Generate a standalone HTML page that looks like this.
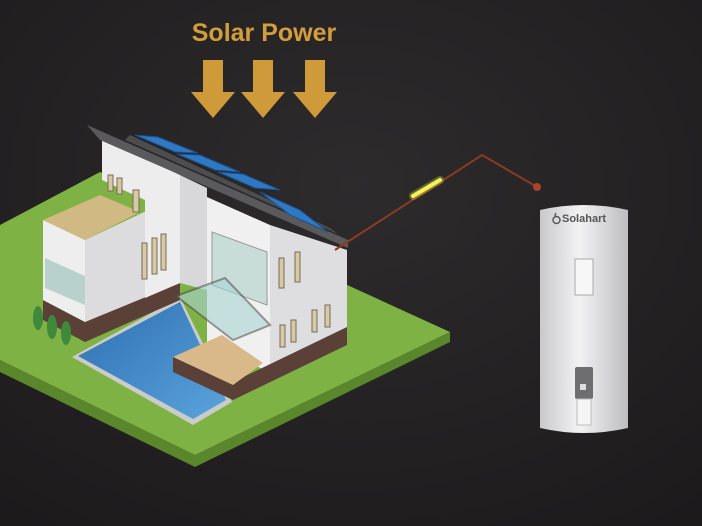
<!DOCTYPE html>
<html><head><meta charset="utf-8"><style>
html,body{margin:0;padding:0;width:702px;height:526px;overflow:hidden;background:#242223}
svg{display:block}
</style></head><body>
<svg width="702" height="526" viewBox="0 0 702 526" xmlns="http://www.w3.org/2000/svg">
<defs>
<radialGradient id="bg" cx="0.5" cy="0.35" r="0.8">
<stop offset="0" stop-color="#2d2b2c"/><stop offset="1" stop-color="#1c1a1b"/></radialGradient>
<linearGradient id="tank" x1="0" x2="1" y1="0" y2="0">
<stop offset="0" stop-color="#c9c9cb"/><stop offset="0.45" stop-color="#f2f2f3"/><stop offset="1" stop-color="#bdbdc0"/></linearGradient>
<linearGradient id="pool" x1="0" x2="1" y1="0" y2="1">
<stop offset="0" stop-color="#2f6fb2"/><stop offset="1" stop-color="#5aa3dc"/></linearGradient>
</defs>
<rect width="702" height="526" fill="url(#bg)"/>
<text x="264" y="41" text-anchor="middle" font-family="Liberation Sans, sans-serif" font-weight="bold" font-size="25" fill="#d49d3c">Solar Power</text>
<g fill="#cf9a3a">
<path d="M203 60h20v32h12l-22 26l-22-26h12z"/>
<path d="M253 60h20v32h12l-22 26l-22-26h12z"/>
<path d="M305 60h20v32h12l-22 26l-22-26h12z"/>
</g>
<!-- lawn -->
<polygon points="0,372 195,467 450,342 450,332 195,455 0,360" fill="#5a872c"/>
<polygon points="100,172 450,332 195,455 0,360 0,225" fill="#7fb244"/>
<!-- pool -->
<polygon points="72,357 180,297 232,402 193,425" fill="#c9ccc8"/>
<polygon points="78,356 180,302 226,400 193,419" fill="url(#pool)"/>
<!-- left lower block -->
<polygon points="43,300 85,322 180,280 180,300 85,342 43,320" fill="#5b4038"/>
<polygon points="43,220 85,240 85,322 43,300" fill="#eeeeef"/>
<polygon points="85,240 180,195 180,283 85,322" fill="#dcdcde"/>
<polygon points="45,258 85,276 85,305 45,288" fill="#b9d1cc"/>
<polygon points="43,220 100,195 140,212 85,240" fill="#d9b98a" opacity="0.9"/>
<!-- tall left / central wall -->
<polygon points="102,137 180,175 180,283 145,298 145,200 102,180" fill="#ededee"/>
<polygon points="180,175 207,188 207,290 180,283" fill="#d8d8da"/>
<g fill="#d6c9a6" stroke="#7a6a55" stroke-width="1">
<rect x="108" y="175" width="5" height="16"/><rect x="117" y="178" width="5" height="16"/><rect x="133" y="190" width="6" height="22"/>
<rect x="142" y="243" width="5" height="36"/><rect x="152" y="238" width="5" height="36"/><rect x="161" y="234" width="5" height="36"/>
</g>
<!-- right block -->
<polygon points="207,197 270,225 270,372 207,345" fill="#f0f0f1"/>
<polygon points="270,225 347,250 347,327 270,372" fill="#dedee0"/>
<polygon points="233,382 347,327 347,345 233,400" fill="#5b4038"/>
<polygon points="212,232 267,252 267,305 212,285" fill="#c8dcd8" stroke="#999" stroke-width="1"/>
<g fill="#d6c9a6" stroke="#7a6a55" stroke-width="1">
<rect x="279" y="258" width="5" height="30"/><rect x="295" y="252" width="5" height="30"/>
<rect x="280" y="325" width="5" height="22"/><rect x="291" y="320" width="5" height="22"/><rect x="312" y="310" width="5" height="22"/><rect x="325" y="305" width="5" height="22"/>
</g>
<!-- deck -->
<polygon points="173,357 222,335 263,363 233,385" fill="#d9b98a"/>
<polygon points="173,357 233,385 233,400 173,372" fill="#5b4038"/>
<polygon points="176,296 225,278 270,325 233,340" fill="#a9d4d4" opacity="0.6" stroke="#555" stroke-width="2"/>
<!-- shrubs -->
<g fill="#3f8a3a"><ellipse cx="38" cy="318" rx="5" ry="12"/><ellipse cx="52" cy="327" rx="5" ry="12"/><ellipse cx="66" cy="333" rx="5" ry="12"/></g>
<!-- roof -->
<polygon points="87,125 348,240 348,248 100,140" fill="#5a5a5c"/>
<polygon points="130,135 330,228 338,234 125,140" fill="#4d4d50"/>
<g fill="#2f79c4" stroke="#1d4f88" stroke-width="1">
<polygon points="135,135 175,152 198,153 158,137"/>
<polygon points="177,154 215,170 240,172 200,155"/>
<polygon points="218,172 255,188 280,190 243,174"/>
<polygon points="260,192 300,210 328,232 290,215"/>
</g>
<!-- wire -->
<polyline points="335,250 482,155 537,187" fill="none" stroke="#8c3a22" stroke-width="2"/>
<circle cx="537" cy="187" r="4" fill="#a9452a"/>
<line x1="413" y1="196" x2="440" y2="180" stroke="#e0f040" stroke-width="8" stroke-linecap="round" opacity="0.3"/>
<line x1="413" y1="196" x2="440" y2="180" stroke="#f2f25a" stroke-width="4" stroke-linecap="round"/>
<!-- tank -->
<path d="M540 210 Q584 200 628 210 L628 428 Q584 438 540 428 Z" fill="url(#tank)"/>
<text x="562" y="222" font-family="Liberation Sans, sans-serif" font-weight="bold" font-size="11" fill="#555">Solahart</text>
<path d="M556 213 q-2 3 0 4 M553 220 a3.5 3.5 0 1 0 7 0 a3.5 3.5 0 1 0 -7 0" fill="none" stroke="#555" stroke-width="1.4"/>
<rect x="575" y="259" width="18" height="36" fill="#f7f7f7" stroke="#aaa" stroke-width="1"/>
<rect x="575" y="367" width="18" height="32" rx="2" fill="#6e6e70"/>
<rect x="580" y="384" width="6" height="6" fill="#ddd"/>
<rect x="577" y="399" width="14" height="26" fill="#f5f5f5" stroke="#bbb" stroke-width="1"/>
</svg>
</body></html>
